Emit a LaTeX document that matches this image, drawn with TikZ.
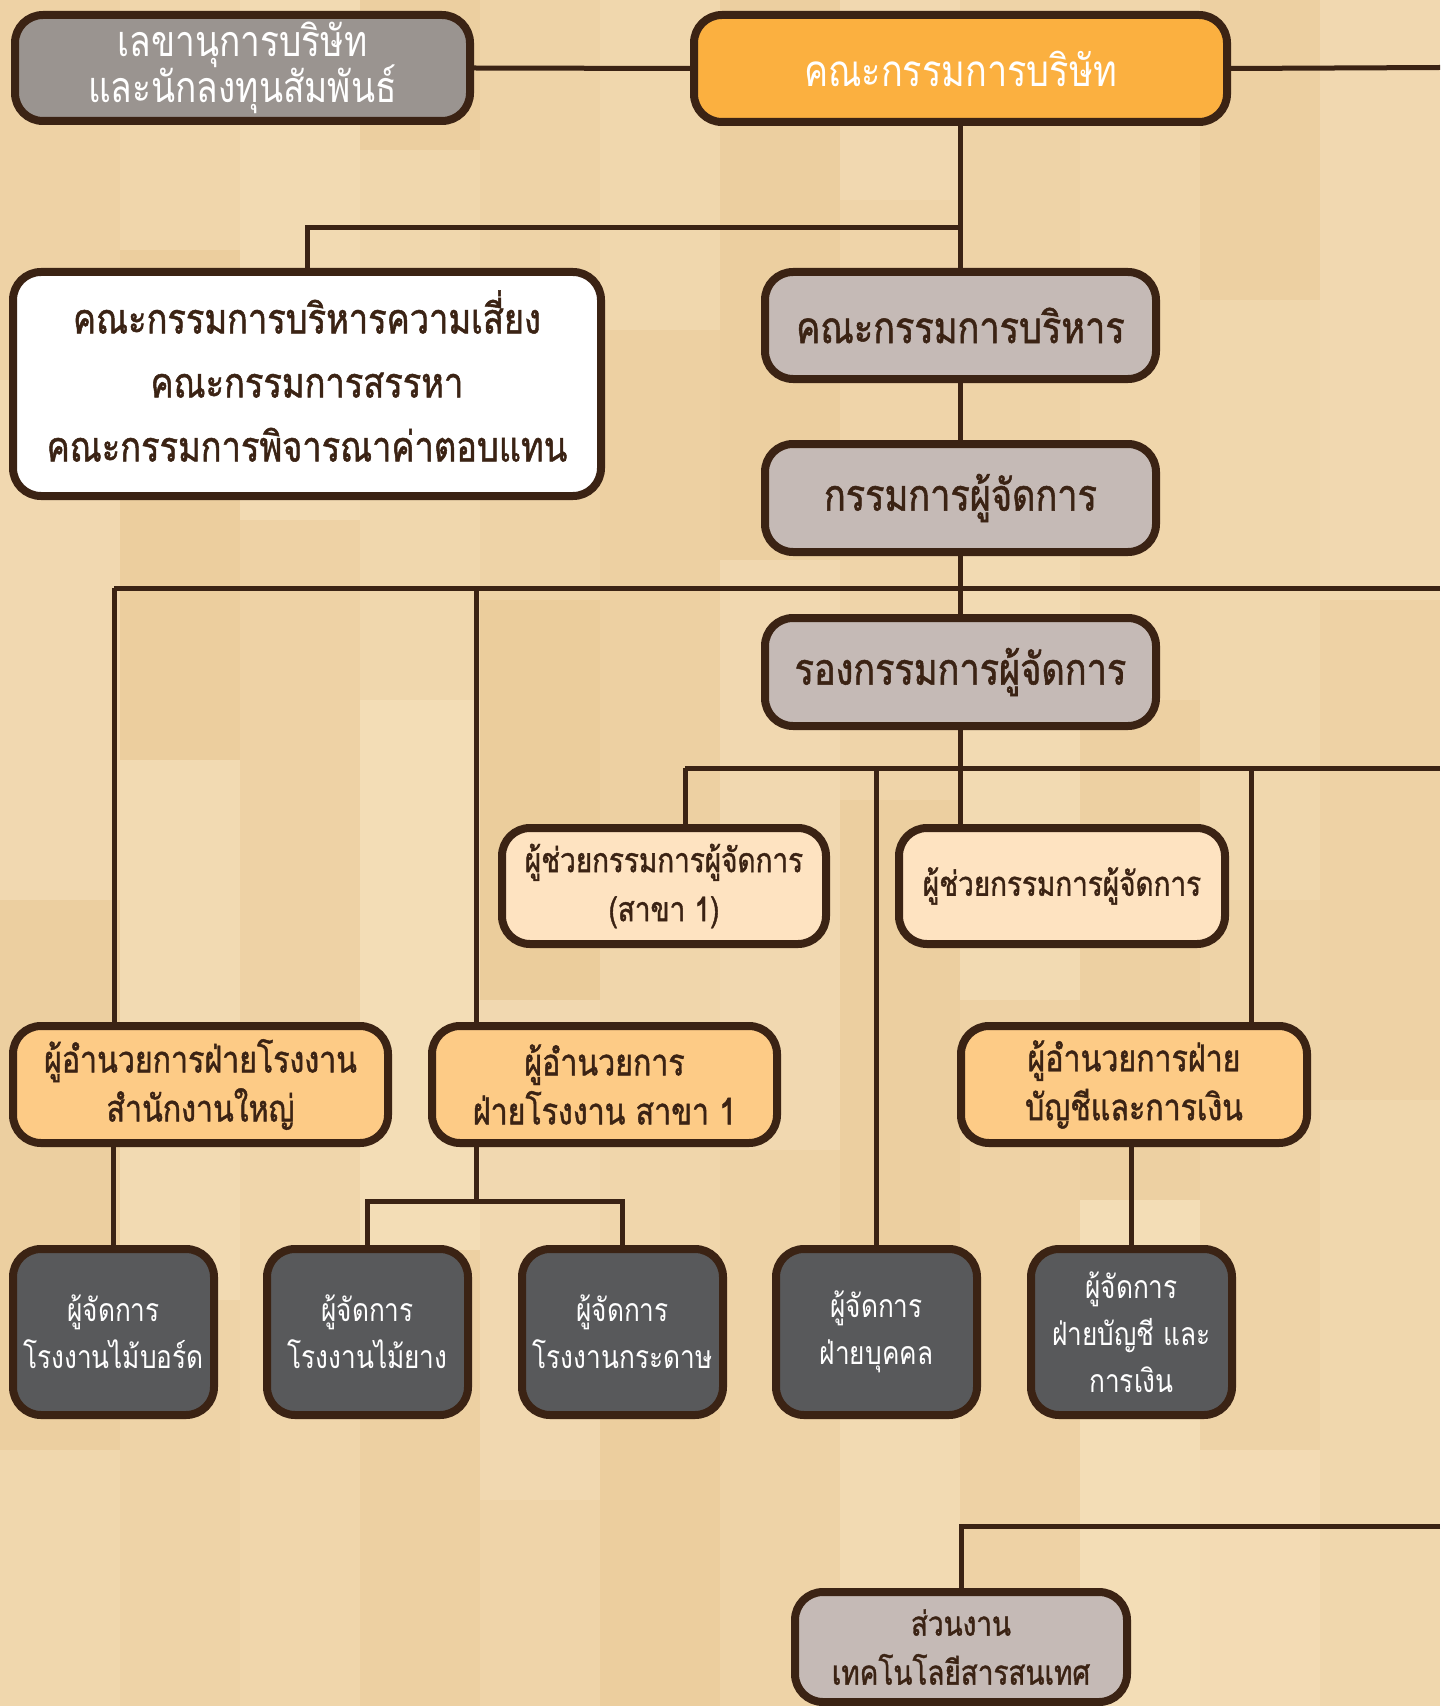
\documentclass[tikz,border=0pt]{standalone}
\usepackage{fontspec}
\newfontfamily\thai[Script=Thai,FakeStretch=0.82]{Loma}
\newfontfamily\thaib[Script=Thai,FakeStretch=0.82,FakeBold=1.2]{Loma}
\newcommand\tightlines{\setlength{\lineskiplimit}{-30pt}\setlength{\lineskip}{0pt}}
\definecolor{brd}{HTML}{3B2314}
\definecolor{woodA}{HTML}{E8C793}
\definecolor{woodB}{HTML}{F6E2BF}
\definecolor{secfill}{HTML}{9A9490}
\definecolor{boardfill}{HTML}{FBB040}
\definecolor{execfill}{HTML}{C5BAB6}
\definecolor{asstfill}{HTML}{FEE3C1}
\definecolor{dirfill}{HTML}{FDCB86}
\definecolor{mgrfill}{HTML}{58595B}
\begin{document}
\begin{tikzpicture}[x=0.5pt,y=-0.5pt,
  box/.style={draw=brd,line width=4pt,rounded corners=14pt,inner sep=0pt,align=center},
  sectxt/.style={font={\thai\fontsize{21.5}{23}\selectfont\tightlines}},
  big/.style={font=\thai\fontsize{22}{28}\selectfont},
  bigb/.style={font=\thaib\fontsize{22}{28}\selectfont},
  mid/.style={font=\thaib\fontsize{21}{32}\selectfont},
  small/.style={font=\thaib\fontsize{17}{24.5}\selectfont},
  dirtxt/.style={font=\thaib\fontsize{18.5}{24.5}\selectfont},
  tiny/.style={font=\thai\fontsize{16}{23.5}\selectfont},
  conn/.style={draw=brd,line width=2.5pt}]
\useasboundingbox (0,0) rectangle (1440,1706);
\fill[woodA!50!woodB] (0,0) rectangle (1440,1706);
\foreach \xa/\ya/\yb/\t in {
 0/0/380/60, 0/380/900/35, 0/900/1450/70, 0/1450/1706/40,
 120/0/250/45, 120/250/760/75, 120/760/1300/30, 120/1300/1706/55,
 240/0/520/30, 240/520/1100/60, 240/1100/1706/45,
 360/0/150/70, 360/150/700/40, 360/700/1250/20, 360/1250/1706/65,
 480/0/600/55, 480/600/1000/80, 480/1000/1500/35, 480/1500/1706/50,
 600/0/330/40, 600/330/850/65, 600/850/1400/45, 600/1400/1706/75,
 720/0/560/70, 720/560/1150/35, 720/1150/1706/55,
 840/0/200/35, 840/200/800/50, 840/800/1350/70, 840/1350/1706/30,
 960/0/450/55, 960/450/1000/30, 960/1000/1600/60, 960/1600/1706/40,
 1080/0/700/45, 1080/700/1200/65, 1080/1200/1706/20,
 1200/0/300/65, 1200/300/900/40, 1200/900/1450/55, 1200/1450/1706/25,
 1320/0/600/35, 1320/600/1100/60, 1320/1100/1706/40}
  {\fill[woodA!\t!woodB] (\xa,\ya) rectangle ++(120,\yb-\ya);}

% nodes
\node[box,sectxt,fill=secfill,text=white,minimum width=227.5pt,minimum height=53pt] (sec) at (242.5,68) {เลขานุการบริษัท\\และนักลงทุนสัมพันธ์};
\node[box,big,fill=boardfill,text=white,minimum width=266.5pt,minimum height=53.5pt] (board) at (960.5,68.5) {คณะกรรมการบริษัท};
\node[box,mid,fill=white,text=brd,minimum width=294pt,minimum height=112pt] (comm) at (307,384) {\raisebox{4pt}[\height][\depth]{\parbox{280pt}{\centering คณะกรรมการบริหารความเสี่ยง\\คณะกรรมการสรรหา\\คณะกรรมการพิจารณาค่าตอบแทน}}};
\node[box,bigb,fill=execfill,text=brd,minimum width=195.5pt,minimum height=53.5pt] (exec) at (960.5,325.5) {คณะกรรมการบริหาร};
\node[box,bigb,fill=execfill,text=brd,minimum width=195.5pt,minimum height=54pt] (md) at (960.5,498) {กรรมการผู้จัดการ};
\node[box,bigb,fill=execfill,text=brd,minimum width=195.5pt,minimum height=54pt] (dep) at (960.5,672) {รองกรรมการผู้จัดการ};
\node[box,small,fill=asstfill,text=brd,minimum width=162pt,minimum height=58pt] (asst1) at (664,886) {ผู้ช่วยกรรมการผู้จัดการ\\(สาขา 1)};
\node[box,small,fill=asstfill,text=brd,minimum width=163pt,minimum height=58pt] (asst2) at (1062,886) {ผู้ช่วยกรรมการผู้จัดการ};
\node[box,dirtxt,fill=dirfill,text=brd,minimum width=187.5pt,minimum height=58.5pt] (dirHQ) at (200.5,1084.5) {ผู้อำนวยการฝ่ายโรงงาน\\สำนักงานใหญ่};
\node[box,dirtxt,fill=dirfill,text=brd,minimum width=172.5pt,minimum height=58.5pt] (dirB1) at (604.5,1084.5) {ผู้อำนวยการ\\ฝ่ายโรงงาน สาขา 1};
\node[box,dirtxt,fill=dirfill,text=brd,minimum width=173pt,minimum height=58.5pt] (dirAcc) at (1134,1084.5) {ผู้อำนวยการฝ่าย\\บัญชีและการเงิน};
\node[box,tiny,fill=mgrfill,text=white,minimum width=100.5pt,minimum height=83pt] (b1) at (113.5,1332) {ผู้จัดการ\\โรงงานไม้บอร์ด};
\node[box,tiny,fill=mgrfill,text=white,minimum width=100.5pt,minimum height=83pt] (b2) at (367.5,1332) {ผู้จัดการ\\โรงงานไม้ยาง};
\node[box,tiny,fill=mgrfill,text=white,minimum width=100.5pt,minimum height=83pt] (b3) at (622.5,1332) {ผู้จัดการ\\โรงงานกระดาษ};
\node[box,tiny,fill=mgrfill,text=white,minimum width=100.5pt,minimum height=83pt] (b4) at (876.5,1332) {ผู้จัดการ\\ฝ่ายบุคคล};
\node[box,tiny,fill=mgrfill,text=white,minimum width=100.5pt,minimum height=83pt] (b5) at (1131.5,1332) {ผู้จัดการ\\ฝ่ายบัญชี และ\\การเงิน};
\node[box,small,fill=execfill,text=brd,minimum width=166pt,minimum height=55pt] (it) at (961,1647) {ส่วนงาน\\เทคโนโลยีสารสนเทศ};

% connectors
\coordinate (rB) at (1440,67.5);
\coordinate (j1) at (960,228);
\coordinate (h2L) at (114,588);
\coordinate (h2b) at (476,588);
\coordinate (h2R) at (1440,588);
\coordinate (h3L) at (685,768);
\coordinate (h3q) at (1251,768);
\coordinate (h3R) at (1440,768);
\coordinate (d4) at (476,1201);
\coordinate (h4R) at (1440,1526);

\draw[conn] (sec.east) -- (board.west);
\draw[conn] (board.east) -- (rB);
\draw[conn] (board.south) -- (exec.north);
\draw[conn] (j1) -| (comm.north);
\draw[conn] (exec.south) -- (md.north);
\draw[conn] (md.south) -- (dep.north);
\draw[conn] (h2L) -- (h2R);
\draw[conn] (h2L) -- (h2L |- dirHQ.north);
\draw[conn] (h2b) -- (h2b |- dirB1.north);
\draw[conn] (dep.south) -- (dep.south |- asst2.north);
\draw[conn] (h3L) -- (h3R);
\draw[conn] (h3L) -- (h3L |- asst1.north);
\draw[conn] (b4.north |- h3L) -- (b4.north);
\draw[conn] (h3q) -- (h3q |- dirAcc.north);
\draw[conn] (b1.north |- dirHQ.south) -- (b1.north);
\draw[conn] (d4 |- dirB1.south) -- (d4);
\draw[conn] (b2.north) -- (b2.north |- d4) -- (b3.north |- d4) -- (b3.north);
\draw[conn] (b5.north |- dirAcc.south) -- (b5.north);
\draw[conn] (h4R) -| (it.north);
\end{tikzpicture}
\end{document}
